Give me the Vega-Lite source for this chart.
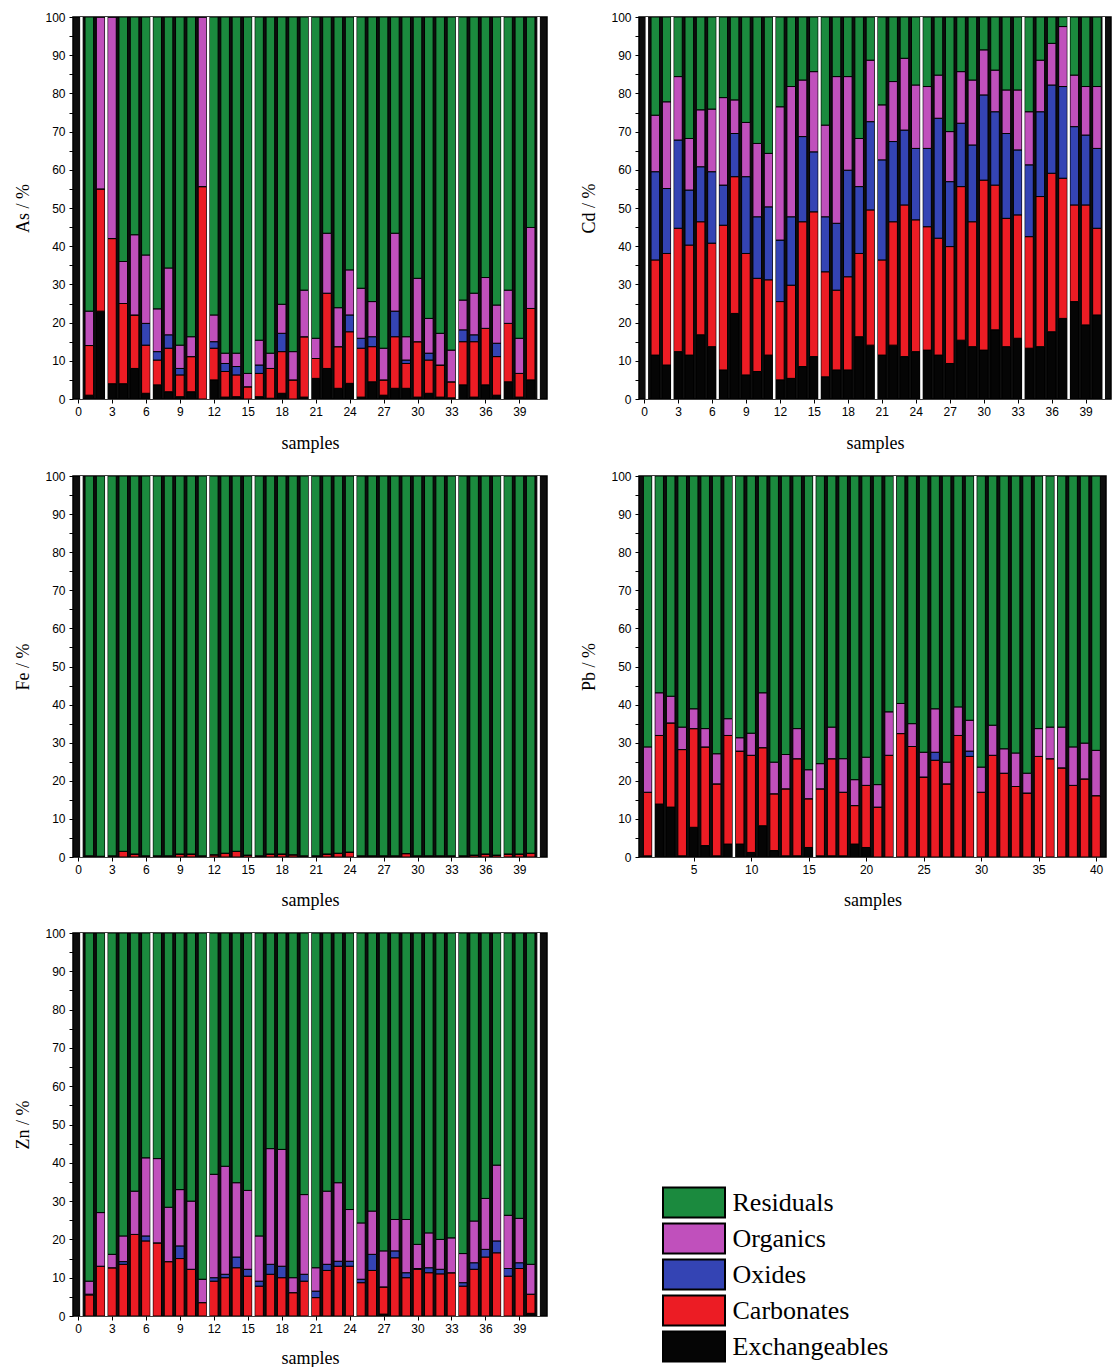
{
"$schema": "https://vega.github.io/schema/vega-lite/v6.json",
"padding": {"left": 14, "top": 10, "right": 2, "bottom": 2},
"background": "white",
"datasets": {
"ranks": [{"fraction":"Exchangeables","rank":1},{"fraction":"Carbonates","rank":2},{"fraction":"Oxides","rank":3},{"fraction":"Organics","rank":4},{"fraction":"Residuals","rank":5}],
"samples": [
{"m":"As","s":1,"Exchangeables":1,"Carbonates":13,"Oxides":0,"Organics":9,"Residuals":77},
{"m":"As","s":2,"Exchangeables":23,"Carbonates":32,"Oxides":0,"Organics":45,"Residuals":0},
{"m":"As","s":3,"Exchangeables":4,"Carbonates":38,"Oxides":0,"Organics":58,"Residuals":0},
{"m":"As","s":4,"Exchangeables":4,"Carbonates":21,"Oxides":0,"Organics":11,"Residuals":64},
{"m":"As","s":5,"Exchangeables":8,"Carbonates":14,"Oxides":0,"Organics":21,"Residuals":57},
{"m":"As","s":6,"Exchangeables":1.5,"Carbonates":12.6,"Oxides":5.7,"Organics":17.9,"Residuals":62.3},
{"m":"As","s":7,"Exchangeables":3.7,"Carbonates":6.5,"Oxides":2.2,"Organics":11.2,"Residuals":76.4},
{"m":"As","s":8,"Exchangeables":1.9,"Carbonates":11.4,"Oxides":3.5,"Organics":17.5,"Residuals":65.7},
{"m":"As","s":9,"Exchangeables":0.6,"Carbonates":5.7,"Oxides":1.7,"Organics":6.1,"Residuals":85.9},
{"m":"As","s":10,"Exchangeables":1.9,"Carbonates":9.2,"Oxides":0,"Organics":5.2,"Residuals":83.7},
{"m":"As","s":11,"Exchangeables":0,"Carbonates":55.6,"Oxides":0,"Organics":44.4,"Residuals":0},
{"m":"As","s":12,"Exchangeables":5,"Carbonates":8.3,"Oxides":1.7,"Organics":7,"Residuals":78},
{"m":"As","s":13,"Exchangeables":0.5,"Carbonates":6.7,"Oxides":2.1,"Organics":2.7,"Residuals":88},
{"m":"As","s":14,"Exchangeables":0.6,"Carbonates":5.7,"Oxides":2.2,"Organics":3.5,"Residuals":88},
{"m":"As","s":15,"Exchangeables":0,"Carbonates":3.2,"Oxides":0,"Organics":3.5,"Residuals":93.3},
{"m":"As","s":16,"Exchangeables":0.6,"Carbonates":6.1,"Oxides":2.2,"Organics":6.5,"Residuals":84.6},
{"m":"As","s":17,"Exchangeables":0.2,"Carbonates":7.8,"Oxides":0,"Organics":4,"Residuals":88},
{"m":"As","s":18,"Exchangeables":1.5,"Carbonates":10.9,"Oxides":4.8,"Organics":7.6,"Residuals":75.2},
{"m":"As","s":19,"Exchangeables":0,"Carbonates":5,"Oxides":0,"Organics":7.4,"Residuals":87.6},
{"m":"As","s":20,"Exchangeables":0.5,"Carbonates":15.8,"Oxides":0,"Organics":12.2,"Residuals":71.5},
{"m":"As","s":21,"Exchangeables":5.4,"Carbonates":5.2,"Oxides":0,"Organics":5.3,"Residuals":84.1},
{"m":"As","s":22,"Exchangeables":8,"Carbonates":19.7,"Oxides":0,"Organics":15.7,"Residuals":56.6},
{"m":"As","s":23,"Exchangeables":2.8,"Carbonates":10.9,"Oxides":0,"Organics":10.2,"Residuals":76.1},
{"m":"As","s":24,"Exchangeables":4.1,"Carbonates":13.5,"Oxides":4.4,"Organics":11.8,"Residuals":66.2},
{"m":"As","s":25,"Exchangeables":0.5,"Carbonates":12.8,"Oxides":2.6,"Organics":13.1,"Residuals":71},
{"m":"As","s":26,"Exchangeables":4.5,"Carbonates":9.2,"Oxides":2.6,"Organics":9.2,"Residuals":74.5},
{"m":"As","s":27,"Exchangeables":1,"Carbonates":4,"Oxides":0,"Organics":8.3,"Residuals":86.7},
{"m":"As","s":28,"Exchangeables":2.8,"Carbonates":13.5,"Oxides":6.7,"Organics":20.4,"Residuals":56.6},
{"m":"As","s":29,"Exchangeables":2.8,"Carbonates":6.5,"Oxides":0.9,"Organics":6.1,"Residuals":83.7},
{"m":"As","s":30,"Exchangeables":0.5,"Carbonates":14.5,"Oxides":0,"Organics":16.6,"Residuals":68.4},
{"m":"As","s":31,"Exchangeables":1.5,"Carbonates":8.7,"Oxides":1.8,"Organics":9.1,"Residuals":78.9},
{"m":"As","s":32,"Exchangeables":0.5,"Carbonates":8.4,"Oxides":0,"Organics":8.3,"Residuals":82.8},
{"m":"As","s":33,"Exchangeables":0.3,"Carbonates":4.2,"Oxides":0,"Organics":8.3,"Residuals":87.2},
{"m":"As","s":34,"Exchangeables":3.7,"Carbonates":11.3,"Oxides":3.1,"Organics":7.8,"Residuals":74.1},
{"m":"As","s":35,"Exchangeables":0.5,"Carbonates":14.5,"Oxides":1.8,"Organics":10.9,"Residuals":72.3},
{"m":"As","s":36,"Exchangeables":3.7,"Carbonates":14.8,"Oxides":0,"Organics":13.3,"Residuals":68.2},
{"m":"As","s":37,"Exchangeables":1,"Carbonates":10.1,"Oxides":3.5,"Organics":10,"Residuals":75.4},
{"m":"As","s":38,"Exchangeables":4.5,"Carbonates":15.3,"Oxides":0,"Organics":8.7,"Residuals":71.5},
{"m":"As","s":39,"Exchangeables":0.5,"Carbonates":6.2,"Oxides":0,"Organics":9.2,"Residuals":84.1},
{"m":"As","s":40,"Exchangeables":5,"Carbonates":18.7,"Oxides":0,"Organics":21.2,"Residuals":55.1},
{"m":"Cd","s":1,"Exchangeables":11.5,"Carbonates":24.9,"Oxides":23.1,"Organics":14.8,"Residuals":25.7},
{"m":"Cd","s":2,"Exchangeables":8.9,"Carbonates":29.2,"Oxides":17,"Organics":22.7,"Residuals":22.2},
{"m":"Cd","s":3,"Exchangeables":12.4,"Carbonates":32.3,"Oxides":23.1,"Organics":16.6,"Residuals":15.6},
{"m":"Cd","s":4,"Exchangeables":11.5,"Carbonates":28.8,"Oxides":14.4,"Organics":13.5,"Residuals":31.8},
{"m":"Cd","s":5,"Exchangeables":16.8,"Carbonates":29.6,"Oxides":14.4,"Organics":14.9,"Residuals":24.3},
{"m":"Cd","s":6,"Exchangeables":13.7,"Carbonates":27.1,"Oxides":18.7,"Organics":16.4,"Residuals":24.1},
{"m":"Cd","s":7,"Exchangeables":7.6,"Carbonates":37.9,"Oxides":10.5,"Organics":22.9,"Residuals":21.1},
{"m":"Cd","s":8,"Exchangeables":22.4,"Carbonates":35.8,"Oxides":11.3,"Organics":8.8,"Residuals":21.7},
{"m":"Cd","s":9,"Exchangeables":6.3,"Carbonates":31.8,"Oxides":20.1,"Organics":14.2,"Residuals":27.6},
{"m":"Cd","s":10,"Exchangeables":7.2,"Carbonates":24.4,"Oxides":16.1,"Organics":19.2,"Residuals":33.1},
{"m":"Cd","s":11,"Exchangeables":11.5,"Carbonates":19.7,"Oxides":19.1,"Organics":14,"Residuals":35.7},
{"m":"Cd","s":12,"Exchangeables":5,"Carbonates":20.5,"Oxides":16.1,"Organics":34.9,"Residuals":23.5},
{"m":"Cd","s":13,"Exchangeables":5.4,"Carbonates":24.4,"Oxides":17.9,"Organics":34.1,"Residuals":18.2},
{"m":"Cd","s":14,"Exchangeables":8.5,"Carbonates":37.9,"Oxides":22.3,"Organics":14.8,"Residuals":16.5},
{"m":"Cd","s":15,"Exchangeables":11.1,"Carbonates":37.9,"Oxides":15.7,"Organics":21,"Residuals":14.3},
{"m":"Cd","s":16,"Exchangeables":5.8,"Carbonates":27.5,"Oxides":14.4,"Organics":24,"Residuals":28.3},
{"m":"Cd","s":17,"Exchangeables":7.6,"Carbonates":20.9,"Oxides":17.5,"Organics":38.4,"Residuals":15.6},
{"m":"Cd","s":18,"Exchangeables":7.6,"Carbonates":24.4,"Oxides":27.9,"Organics":24.5,"Residuals":15.6},
{"m":"Cd","s":19,"Exchangeables":16.3,"Carbonates":21.8,"Oxides":17.5,"Organics":12.6,"Residuals":31.8},
{"m":"Cd","s":20,"Exchangeables":14.1,"Carbonates":35.4,"Oxides":23.1,"Organics":16.1,"Residuals":11.3},
{"m":"Cd","s":21,"Exchangeables":11.5,"Carbonates":24.9,"Oxides":26.2,"Organics":14.4,"Residuals":23},
{"m":"Cd","s":22,"Exchangeables":14.1,"Carbonates":32.3,"Oxides":21,"Organics":15.7,"Residuals":16.9},
{"m":"Cd","s":23,"Exchangeables":11.1,"Carbonates":39.7,"Oxides":19.6,"Organics":18.8,"Residuals":10.8},
{"m":"Cd","s":24,"Exchangeables":12.4,"Carbonates":34.5,"Oxides":18.7,"Organics":16.6,"Residuals":17.8},
{"m":"Cd","s":25,"Exchangeables":12.8,"Carbonates":32.3,"Oxides":20.5,"Organics":16.2,"Residuals":18.2},
{"m":"Cd","s":26,"Exchangeables":11.5,"Carbonates":30.6,"Oxides":31.4,"Organics":11.3,"Residuals":15.2},
{"m":"Cd","s":27,"Exchangeables":9.3,"Carbonates":30.6,"Oxides":17,"Organics":13.1,"Residuals":30},
{"m":"Cd","s":28,"Exchangeables":15.4,"Carbonates":40.2,"Oxides":16.6,"Organics":13.5,"Residuals":14.3},
{"m":"Cd","s":29,"Exchangeables":13.7,"Carbonates":32.7,"Oxides":20.1,"Organics":17,"Residuals":16.5},
{"m":"Cd","s":30,"Exchangeables":12.8,"Carbonates":44.5,"Oxides":22.3,"Organics":11.8,"Residuals":8.6},
{"m":"Cd","s":31,"Exchangeables":18.1,"Carbonates":37.9,"Oxides":19.2,"Organics":10.9,"Residuals":13.9},
{"m":"Cd","s":32,"Exchangeables":13.7,"Carbonates":33.6,"Oxides":22.2,"Organics":11.4,"Residuals":19.1},
{"m":"Cd","s":33,"Exchangeables":15.9,"Carbonates":32.3,"Oxides":17,"Organics":15.7,"Residuals":19.1},
{"m":"Cd","s":34,"Exchangeables":13.3,"Carbonates":29.2,"Oxides":18.8,"Organics":13.9,"Residuals":24.8},
{"m":"Cd","s":35,"Exchangeables":13.7,"Carbonates":39.3,"Oxides":22.2,"Organics":13.5,"Residuals":11.3},
{"m":"Cd","s":36,"Exchangeables":17.6,"Carbonates":41.5,"Oxides":23.1,"Organics":10.9,"Residuals":6.9},
{"m":"Cd","s":37,"Exchangeables":21.1,"Carbonates":36.7,"Oxides":24,"Organics":15.7,"Residuals":2.5},
{"m":"Cd","s":38,"Exchangeables":25.5,"Carbonates":25.3,"Oxides":20.5,"Organics":13.5,"Residuals":15.2},
{"m":"Cd","s":39,"Exchangeables":19.4,"Carbonates":31.4,"Oxides":18.3,"Organics":12.7,"Residuals":18.2},
{"m":"Cd","s":40,"Exchangeables":22,"Carbonates":22.7,"Oxides":20.9,"Organics":16.2,"Residuals":18.2},
{"m":"Fe","s":1,"Exchangeables":0,"Carbonates":0.3,"Oxides":0,"Organics":0,"Residuals":99.7},
{"m":"Fe","s":2,"Exchangeables":0,"Carbonates":0.2,"Oxides":0,"Organics":0,"Residuals":99.8},
{"m":"Fe","s":3,"Exchangeables":0,"Carbonates":0.3,"Oxides":0,"Organics":0,"Residuals":99.7},
{"m":"Fe","s":4,"Exchangeables":0,"Carbonates":1.5,"Oxides":0,"Organics":0,"Residuals":98.5},
{"m":"Fe","s":5,"Exchangeables":0,"Carbonates":0.8,"Oxides":0,"Organics":0,"Residuals":99.2},
{"m":"Fe","s":6,"Exchangeables":0,"Carbonates":0.3,"Oxides":0,"Organics":0,"Residuals":99.7},
{"m":"Fe","s":7,"Exchangeables":0,"Carbonates":0.3,"Oxides":0,"Organics":0,"Residuals":99.7},
{"m":"Fe","s":8,"Exchangeables":0,"Carbonates":0.3,"Oxides":0,"Organics":0,"Residuals":99.7},
{"m":"Fe","s":9,"Exchangeables":0,"Carbonates":0.8,"Oxides":0,"Organics":0,"Residuals":99.2},
{"m":"Fe","s":10,"Exchangeables":0,"Carbonates":0.8,"Oxides":0,"Organics":0,"Residuals":99.2},
{"m":"Fe","s":11,"Exchangeables":0,"Carbonates":0.3,"Oxides":0,"Organics":0,"Residuals":99.7},
{"m":"Fe","s":12,"Exchangeables":0,"Carbonates":0.6,"Oxides":0,"Organics":0,"Residuals":99.4},
{"m":"Fe","s":13,"Exchangeables":0,"Carbonates":1,"Oxides":0,"Organics":0,"Residuals":99},
{"m":"Fe","s":14,"Exchangeables":0,"Carbonates":1.5,"Oxides":0,"Organics":0,"Residuals":98.5},
{"m":"Fe","s":15,"Exchangeables":0,"Carbonates":0.5,"Oxides":0,"Organics":0,"Residuals":99.5},
{"m":"Fe","s":16,"Exchangeables":0,"Carbonates":0.3,"Oxides":0,"Organics":0,"Residuals":99.7},
{"m":"Fe","s":17,"Exchangeables":0,"Carbonates":0.8,"Oxides":0,"Organics":0,"Residuals":99.2},
{"m":"Fe","s":18,"Exchangeables":0,"Carbonates":0.8,"Oxides":0,"Organics":0,"Residuals":99.2},
{"m":"Fe","s":19,"Exchangeables":0,"Carbonates":0.6,"Oxides":0,"Organics":0,"Residuals":99.4},
{"m":"Fe","s":20,"Exchangeables":0,"Carbonates":0.3,"Oxides":0,"Organics":0,"Residuals":99.7},
{"m":"Fe","s":21,"Exchangeables":0,"Carbonates":0.3,"Oxides":0,"Organics":0,"Residuals":99.7},
{"m":"Fe","s":22,"Exchangeables":0,"Carbonates":0.8,"Oxides":0,"Organics":0,"Residuals":99.2},
{"m":"Fe","s":23,"Exchangeables":0,"Carbonates":1,"Oxides":0,"Organics":0,"Residuals":99},
{"m":"Fe","s":24,"Exchangeables":0,"Carbonates":1.3,"Oxides":0,"Organics":0,"Residuals":98.7},
{"m":"Fe","s":25,"Exchangeables":0,"Carbonates":0.3,"Oxides":0,"Organics":0,"Residuals":99.7},
{"m":"Fe","s":26,"Exchangeables":0,"Carbonates":0.3,"Oxides":0,"Organics":0,"Residuals":99.7},
{"m":"Fe","s":27,"Exchangeables":0,"Carbonates":0.3,"Oxides":0,"Organics":0,"Residuals":99.7},
{"m":"Fe","s":28,"Exchangeables":0,"Carbonates":0.3,"Oxides":0,"Organics":0,"Residuals":99.7},
{"m":"Fe","s":29,"Exchangeables":0,"Carbonates":0.9,"Oxides":0,"Organics":0,"Residuals":99.1},
{"m":"Fe","s":30,"Exchangeables":0,"Carbonates":0.3,"Oxides":0,"Organics":0,"Residuals":99.7},
{"m":"Fe","s":31,"Exchangeables":0,"Carbonates":0.3,"Oxides":0,"Organics":0,"Residuals":99.7},
{"m":"Fe","s":32,"Exchangeables":0,"Carbonates":0.3,"Oxides":0,"Organics":0,"Residuals":99.7},
{"m":"Fe","s":33,"Exchangeables":0,"Carbonates":0.3,"Oxides":0,"Organics":0,"Residuals":99.7},
{"m":"Fe","s":34,"Exchangeables":0,"Carbonates":0.3,"Oxides":0,"Organics":0,"Residuals":99.7},
{"m":"Fe","s":35,"Exchangeables":0,"Carbonates":0.5,"Oxides":0,"Organics":0,"Residuals":99.5},
{"m":"Fe","s":36,"Exchangeables":0,"Carbonates":0.8,"Oxides":0,"Organics":0,"Residuals":99.2},
{"m":"Fe","s":37,"Exchangeables":0,"Carbonates":0.5,"Oxides":0,"Organics":0,"Residuals":99.5},
{"m":"Fe","s":38,"Exchangeables":0,"Carbonates":0.8,"Oxides":0,"Organics":0,"Residuals":99.2},
{"m":"Fe","s":39,"Exchangeables":0,"Carbonates":0.8,"Oxides":0,"Organics":0,"Residuals":99.2},
{"m":"Fe","s":40,"Exchangeables":0,"Carbonates":1,"Oxides":0,"Organics":0,"Residuals":99},
{"m":"Pb","s":1,"Exchangeables":0.3,"Carbonates":16.7,"Oxides":0,"Organics":11.9,"Residuals":71.1},
{"m":"Pb","s":2,"Exchangeables":13.9,"Carbonates":18,"Oxides":0,"Organics":11.2,"Residuals":56.9},
{"m":"Pb","s":3,"Exchangeables":13.1,"Carbonates":22.1,"Oxides":0,"Organics":7,"Residuals":57.8},
{"m":"Pb","s":4,"Exchangeables":0.3,"Carbonates":27.9,"Oxides":0,"Organics":5.9,"Residuals":65.9},
{"m":"Pb","s":5,"Exchangeables":7.8,"Carbonates":25.9,"Oxides":0,"Organics":5.2,"Residuals":61.1},
{"m":"Pb","s":6,"Exchangeables":3,"Carbonates":25.9,"Oxides":0,"Organics":4.8,"Residuals":66.3},
{"m":"Pb","s":7,"Exchangeables":0.3,"Carbonates":18.9,"Oxides":0,"Organics":7.9,"Residuals":72.9},
{"m":"Pb","s":8,"Exchangeables":3.4,"Carbonates":28.5,"Oxides":0,"Organics":4.4,"Residuals":63.7},
{"m":"Pb","s":9,"Exchangeables":3.4,"Carbonates":24.4,"Oxides":0,"Organics":3.5,"Residuals":68.7},
{"m":"Pb","s":10,"Exchangeables":1.2,"Carbonates":25.5,"Oxides":0,"Organics":5.8,"Residuals":67.5},
{"m":"Pb","s":11,"Exchangeables":8.2,"Carbonates":20.5,"Oxides":0,"Organics":14.4,"Residuals":56.9},
{"m":"Pb","s":12,"Exchangeables":1.7,"Carbonates":14.9,"Oxides":0,"Organics":8.3,"Residuals":75.1},
{"m":"Pb","s":13,"Exchangeables":0.3,"Carbonates":17.6,"Oxides":0,"Organics":9,"Residuals":73.1},
{"m":"Pb","s":14,"Exchangeables":0.3,"Carbonates":25.5,"Oxides":0,"Organics":7.9,"Residuals":66.3},
{"m":"Pb","s":15,"Exchangeables":2.5,"Carbonates":12.8,"Oxides":0,"Organics":7.6,"Residuals":77.1},
{"m":"Pb","s":16,"Exchangeables":0.3,"Carbonates":17.6,"Oxides":0,"Organics":6.6,"Residuals":75.5},
{"m":"Pb","s":17,"Exchangeables":0.3,"Carbonates":25.5,"Oxides":0,"Organics":8.3,"Residuals":65.9},
{"m":"Pb","s":18,"Exchangeables":0.3,"Carbonates":16.7,"Oxides":0,"Organics":8.8,"Residuals":74.2},
{"m":"Pb","s":19,"Exchangeables":3.4,"Carbonates":10.1,"Oxides":0,"Organics":6.8,"Residuals":79.7},
{"m":"Pb","s":20,"Exchangeables":2.5,"Carbonates":16.3,"Oxides":0,"Organics":7.4,"Residuals":73.8},
{"m":"Pb","s":21,"Exchangeables":0,"Carbonates":13.1,"Oxides":0,"Organics":5.9,"Residuals":81},
{"m":"Pb","s":22,"Exchangeables":0,"Carbonates":26.7,"Oxides":0,"Organics":11.4,"Residuals":61.9},
{"m":"Pb","s":23,"Exchangeables":0,"Carbonates":32.4,"Oxides":0,"Organics":7.9,"Residuals":59.7},
{"m":"Pb","s":24,"Exchangeables":0,"Carbonates":29,"Oxides":0,"Organics":6,"Residuals":65},
{"m":"Pb","s":25,"Exchangeables":0,"Carbonates":21,"Oxides":0,"Organics":6.5,"Residuals":72.5},
{"m":"Pb","s":26,"Exchangeables":0,"Carbonates":25.4,"Oxides":2.1,"Organics":11.4,"Residuals":61.1},
{"m":"Pb","s":27,"Exchangeables":0,"Carbonates":19.2,"Oxides":0,"Organics":5.7,"Residuals":75.1},
{"m":"Pb","s":28,"Exchangeables":0,"Carbonates":31.9,"Oxides":0,"Organics":7.5,"Residuals":60.6},
{"m":"Pb","s":29,"Exchangeables":0,"Carbonates":26.4,"Oxides":1.4,"Organics":8.1,"Residuals":64.1},
{"m":"Pb","s":30,"Exchangeables":0,"Carbonates":17,"Oxides":0,"Organics":6.6,"Residuals":76.4},
{"m":"Pb","s":31,"Exchangeables":0,"Carbonates":26.7,"Oxides":0,"Organics":7.9,"Residuals":65.4},
{"m":"Pb","s":32,"Exchangeables":0,"Carbonates":22,"Oxides":0,"Organics":6.4,"Residuals":71.6},
{"m":"Pb","s":33,"Exchangeables":0,"Carbonates":18.5,"Oxides":0,"Organics":8.8,"Residuals":72.7},
{"m":"Pb","s":34,"Exchangeables":0,"Carbonates":16.8,"Oxides":0,"Organics":5.2,"Residuals":78},
{"m":"Pb","s":35,"Exchangeables":0,"Carbonates":26.4,"Oxides":0,"Organics":7.3,"Residuals":66.3},
{"m":"Pb","s":36,"Exchangeables":0,"Carbonates":25.8,"Oxides":0,"Organics":8.3,"Residuals":65.9},
{"m":"Pb","s":37,"Exchangeables":0,"Carbonates":23.4,"Oxides":0,"Organics":10.7,"Residuals":65.9},
{"m":"Pb","s":38,"Exchangeables":0,"Carbonates":18.8,"Oxides":0,"Organics":10.1,"Residuals":71.1},
{"m":"Pb","s":39,"Exchangeables":0,"Carbonates":20.5,"Oxides":0,"Organics":9.4,"Residuals":70.1},
{"m":"Pb","s":40,"Exchangeables":0,"Carbonates":16.1,"Oxides":0,"Organics":11.9,"Residuals":72},
{"m":"Zn","s":1,"Exchangeables":0,"Carbonates":5.5,"Oxides":0.2,"Organics":3.4,"Residuals":90.9},
{"m":"Zn","s":2,"Exchangeables":0,"Carbonates":13,"Oxides":0,"Organics":14,"Residuals":73},
{"m":"Zn","s":3,"Exchangeables":0,"Carbonates":12.6,"Oxides":0,"Organics":3.5,"Residuals":83.9},
{"m":"Zn","s":4,"Exchangeables":0,"Carbonates":13.5,"Oxides":0.7,"Organics":6.7,"Residuals":79.1},
{"m":"Zn","s":5,"Exchangeables":0,"Carbonates":21.3,"Oxides":0,"Organics":11.3,"Residuals":67.4},
{"m":"Zn","s":6,"Exchangeables":0,"Carbonates":19.6,"Oxides":1.3,"Organics":20.4,"Residuals":58.7},
{"m":"Zn","s":7,"Exchangeables":0,"Carbonates":19.1,"Oxides":0,"Organics":22,"Residuals":58.9},
{"m":"Zn","s":8,"Exchangeables":0,"Carbonates":14.2,"Oxides":0,"Organics":14.2,"Residuals":71.6},
{"m":"Zn","s":9,"Exchangeables":0,"Carbonates":15,"Oxides":3.3,"Organics":14.7,"Residuals":67},
{"m":"Zn","s":10,"Exchangeables":0,"Carbonates":12.2,"Oxides":0,"Organics":17.8,"Residuals":70},
{"m":"Zn","s":11,"Exchangeables":0,"Carbonates":3.5,"Oxides":0,"Organics":6.1,"Residuals":90.4},
{"m":"Zn","s":12,"Exchangeables":0,"Carbonates":9.1,"Oxides":0.9,"Organics":27,"Residuals":63},
{"m":"Zn","s":13,"Exchangeables":0,"Carbonates":10,"Oxides":0.9,"Organics":28.2,"Residuals":60.9},
{"m":"Zn","s":14,"Exchangeables":0,"Carbonates":12.6,"Oxides":2.8,"Organics":19.4,"Residuals":65.2},
{"m":"Zn","s":15,"Exchangeables":0,"Carbonates":10.4,"Oxides":1.8,"Organics":20.6,"Residuals":67.2},
{"m":"Zn","s":16,"Exchangeables":0,"Carbonates":7.8,"Oxides":1.3,"Organics":11.8,"Residuals":79.1},
{"m":"Zn","s":17,"Exchangeables":0,"Carbonates":10.9,"Oxides":2.6,"Organics":30.2,"Residuals":56.3},
{"m":"Zn","s":18,"Exchangeables":0,"Carbonates":10,"Oxides":3,"Organics":30.5,"Residuals":56.5},
{"m":"Zn","s":19,"Exchangeables":0,"Carbonates":6.1,"Oxides":0,"Organics":3.9,"Residuals":90},
{"m":"Zn","s":20,"Exchangeables":0,"Carbonates":9.1,"Oxides":1.8,"Organics":20.8,"Residuals":68.3},
{"m":"Zn","s":21,"Exchangeables":0,"Carbonates":4.8,"Oxides":1.7,"Organics":6.1,"Residuals":87.4},
{"m":"Zn","s":22,"Exchangeables":0,"Carbonates":11.9,"Oxides":1.6,"Organics":19.1,"Residuals":67.4},
{"m":"Zn","s":23,"Exchangeables":0,"Carbonates":13,"Oxides":1.3,"Organics":20.5,"Residuals":65.2},
{"m":"Zn","s":24,"Exchangeables":0,"Carbonates":13,"Oxides":1.3,"Organics":13.5,"Residuals":72.2},
{"m":"Zn","s":25,"Exchangeables":0,"Carbonates":8.7,"Oxides":0.9,"Organics":14.7,"Residuals":75.7},
{"m":"Zn","s":26,"Exchangeables":0,"Carbonates":11.9,"Oxides":4.2,"Organics":11.3,"Residuals":72.6},
{"m":"Zn","s":27,"Exchangeables":0.5,"Carbonates":7.1,"Oxides":0,"Organics":9.4,"Residuals":83},
{"m":"Zn","s":28,"Exchangeables":0,"Carbonates":15.2,"Oxides":1.8,"Organics":8.2,"Residuals":74.8},
{"m":"Zn","s":29,"Exchangeables":0,"Carbonates":10,"Oxides":1.3,"Organics":13.9,"Residuals":74.8},
{"m":"Zn","s":30,"Exchangeables":0,"Carbonates":12.2,"Oxides":0.2,"Organics":6.3,"Residuals":81.3},
{"m":"Zn","s":31,"Exchangeables":0,"Carbonates":11.3,"Oxides":1.3,"Organics":9.1,"Residuals":78.3},
{"m":"Zn","s":32,"Exchangeables":0,"Carbonates":11,"Oxides":1.2,"Organics":7.8,"Residuals":80},
{"m":"Zn","s":33,"Exchangeables":0,"Carbonates":11.3,"Oxides":0,"Organics":9.1,"Residuals":79.6},
{"m":"Zn","s":34,"Exchangeables":0,"Carbonates":7.8,"Oxides":0.9,"Organics":7.6,"Residuals":83.7},
{"m":"Zn","s":35,"Exchangeables":0,"Carbonates":12.2,"Oxides":1.7,"Organics":10.9,"Residuals":75.2},
{"m":"Zn","s":36,"Exchangeables":0,"Carbonates":15.4,"Oxides":2,"Organics":13.3,"Residuals":69.3},
{"m":"Zn","s":37,"Exchangeables":0,"Carbonates":16.5,"Oxides":3.1,"Organics":19.8,"Residuals":60.6},
{"m":"Zn","s":38,"Exchangeables":0,"Carbonates":10.4,"Oxides":2,"Organics":13.9,"Residuals":73.7},
{"m":"Zn","s":39,"Exchangeables":0,"Carbonates":12.4,"Oxides":1.5,"Organics":11.6,"Residuals":74.5},
{"m":"Zn","s":40,"Exchangeables":0.7,"Carbonates":5,"Oxides":0,"Organics":7.8,"Residuals":86.5}
]
},
"columns": 2,
"spacing": {"row": 16, "column": 32},
"concat": [
{
"width": 474, "height": 382,
"layer": [
{"data": {"name": "samples"},
 "transform": [{"filter": "datum.m == 'As'"},{"fold": ["Exchangeables","Carbonates","Oxides","Organics","Residuals"], "as": ["fraction","pct"]},{"lookup": "fraction", "from": {"data": {"name": "ranks"}, "key": "fraction", "fields": ["rank"]}}],
 "mark": {"type": "bar", "size": 8.6, "stroke": "#000", "strokeWidth": 1, "clip": true},
 "encoding": {
  "x": {"field": "s", "type": "quantitative", "title": "samples", "scale": {"domain": [0, 41], "nice": false, "zero": false}, "axis": {"values": [0,3,6,9,12,15,18,21,24,27,30,33,36,39], "labelOverlap": false, "titlePadding": 17}},
  "y": {"field": "pct", "type": "quantitative", "stack": "zero", "title": "As / %", "scale": {"domain": [0, 100], "nice": false}, "axis": {"values": [0,5,10,15,20,25,30,35,40,45,50,55,60,65,70,75,80,85,90,95,100], "labelExpr": "datum.value % 10 == 0 ? datum.label : ''"}},
  "color": {"field": "fraction", "type": "nominal", "scale": {"domain": ["Residuals","Organics","Oxides","Carbonates","Exchangeables"], "range": ["#1b8a3e","#c050bc","#3444b4","#ec1c24","#050505"]}, "legend": {"orient": "none", "legendX": 589, "legendY": 1169, "title": null}},
  "order": {"field": "rank", "type": "quantitative", "sort": "ascending"}
 }},
{"data": {"values": [{"x":0.3},{"x":2.5},{"x":6.5},{"x":11.5},{"x":15.5},{"x":20.5},{"x":24.5},{"x":33.5},{"x":37.5},{"x":40.7}]},
 "mark": {"type": "rule", "color": "#ffffff", "strokeWidth": 2.5},
 "encoding": {"x": {"field": "x", "type": "quantitative", "title": "samples", "axis": {"values": [0,3,6,9,12,15,18,21,24,27,30,33,36,39], "labelOverlap": false, "titlePadding": 17}}}}
]
},
{
"width": 472, "height": 382,
"layer": [
{"data": {"name": "samples"},
 "transform": [{"filter": "datum.m == 'Cd'"},{"fold": ["Exchangeables","Carbonates","Oxides","Organics","Residuals"], "as": ["fraction","pct"]},{"lookup": "fraction", "from": {"data": {"name": "ranks"}, "key": "fraction", "fields": ["rank"]}}],
 "mark": {"type": "bar", "size": 8.6, "stroke": "#000", "strokeWidth": 1, "clip": true},
 "encoding": {
  "x": {"field": "s", "type": "quantitative", "title": "samples", "scale": {"domain": [0, 40.8], "nice": false, "zero": false}, "axis": {"values": [0,3,6,9,12,15,18,21,24,27,30,33,36,39], "labelOverlap": false, "titlePadding": 17}},
  "y": {"field": "pct", "type": "quantitative", "stack": "zero", "title": "Cd / %", "scale": {"domain": [0, 100], "nice": false}, "axis": {"values": [0,5,10,15,20,25,30,35,40,45,50,55,60,65,70,75,80,85,90,95,100], "labelExpr": "datum.value % 10 == 0 ? datum.label : ''"}},
  "color": {"field": "fraction", "type": "nominal", "scale": {"domain": ["Residuals","Organics","Oxides","Carbonates","Exchangeables"], "range": ["#1b8a3e","#c050bc","#3444b4","#ec1c24","#050505"]}, "legend": {"orient": "none", "legendX": 589, "legendY": 1169, "title": null}},
  "order": {"field": "rank", "type": "quantitative", "sort": "ascending"}
 }},
{"data": {"values": [{"x":0.25},{"x":2.5},{"x":6.5},{"x":11.5},{"x":15.5},{"x":20.5},{"x":24.5},{"x":33.5},{"x":37.5},{"x":40.6}]},
 "mark": {"type": "rule", "color": "#ffffff", "strokeWidth": 2.5},
 "encoding": {"x": {"field": "x", "type": "quantitative", "title": "samples", "axis": {"values": [0,3,6,9,12,15,18,21,24,27,30,33,36,39], "labelOverlap": false, "titlePadding": 17}}}}
]
},
{
"width": 474, "height": 381,
"layer": [
{"data": {"name": "samples"},
 "transform": [{"filter": "datum.m == 'Fe'"},{"fold": ["Exchangeables","Carbonates","Oxides","Organics","Residuals"], "as": ["fraction","pct"]},{"lookup": "fraction", "from": {"data": {"name": "ranks"}, "key": "fraction", "fields": ["rank"]}}],
 "mark": {"type": "bar", "size": 8.6, "stroke": "#000", "strokeWidth": 1, "clip": true},
 "encoding": {
  "x": {"field": "s", "type": "quantitative", "title": "samples", "scale": {"domain": [0, 41], "nice": false, "zero": false}, "axis": {"values": [0,3,6,9,12,15,18,21,24,27,30,33,36,39], "labelOverlap": false, "titlePadding": 16}},
  "y": {"field": "pct", "type": "quantitative", "stack": "zero", "title": "Fe / %", "scale": {"domain": [0, 100], "nice": false}, "axis": {"values": [0,5,10,15,20,25,30,35,40,45,50,55,60,65,70,75,80,85,90,95,100], "labelExpr": "datum.value % 10 == 0 ? datum.label : ''"}},
  "color": {"field": "fraction", "type": "nominal", "scale": {"domain": ["Residuals","Organics","Oxides","Carbonates","Exchangeables"], "range": ["#1b8a3e","#c050bc","#3444b4","#ec1c24","#050505"]}, "legend": {"orient": "none", "legendX": 589, "legendY": 1169, "title": null}},
  "order": {"field": "rank", "type": "quantitative", "sort": "ascending"}
 }},
{"data": {"values": [{"x":0.3},{"x":2.5},{"x":6.5},{"x":11.5},{"x":15.5},{"x":20.5},{"x":24.5},{"x":33.5},{"x":37.5},{"x":40.7}]},
 "mark": {"type": "rule", "color": "#ffffff", "strokeWidth": 2.5},
 "encoding": {"x": {"field": "x", "type": "quantitative", "title": "samples", "axis": {"values": [0,3,6,9,12,15,18,21,24,27,30,33,36,39], "labelOverlap": false, "titlePadding": 16}}}}
]
},
{
"width": 467, "height": 381,
"layer": [
{"data": {"name": "samples"},
 "transform": [{"filter": "datum.m == 'Pb'"},{"fold": ["Exchangeables","Carbonates","Oxides","Organics","Residuals"], "as": ["fraction","pct"]},{"lookup": "fraction", "from": {"data": {"name": "ranks"}, "key": "fraction", "fields": ["rank"]}}],
 "mark": {"type": "bar", "size": 8.6, "stroke": "#000", "strokeWidth": 1, "clip": true},
 "encoding": {
  "x": {"field": "s", "type": "quantitative", "title": "samples", "scale": {"domain": [0.68, 40.43], "nice": false, "zero": false}, "axis": {"values": [5,10,15,20,25,30,35,40], "labelOverlap": false, "titlePadding": 16}},
  "y": {"field": "pct", "type": "quantitative", "stack": "zero", "title": "Pb / %", "scale": {"domain": [0, 100], "nice": false}, "axis": {"values": [0,5,10,15,20,25,30,35,40,45,50,55,60,65,70,75,80,85,90,95,100], "labelExpr": "datum.value % 10 == 0 ? datum.label : ''"}},
  "color": {"field": "fraction", "type": "nominal", "scale": {"domain": ["Residuals","Organics","Oxides","Carbonates","Exchangeables"], "range": ["#1b8a3e","#c050bc","#3444b4","#ec1c24","#050505"]}, "legend": {"orient": "none", "legendX": 589, "legendY": 1169, "title": null}},
  "order": {"field": "rank", "type": "quantitative", "sort": "ascending"}
 }},
{"data": {"values": [{"x":1.5},{"x":8.5},{"x":15.5},{"x":22.5},{"x":29.5},{"x":35.5},{"x":36.5}]},
 "mark": {"type": "rule", "color": "#ffffff", "strokeWidth": 2.5},
 "encoding": {"x": {"field": "x", "type": "quantitative", "title": "samples", "axis": {"values": [5,10,15,20,25,30,35,40], "labelOverlap": false, "titlePadding": 16}}}}
]
},
{
"width": 474, "height": 383,
"layer": [
{"data": {"name": "samples"},
 "transform": [{"filter": "datum.m == 'Zn'"},{"fold": ["Exchangeables","Carbonates","Oxides","Organics","Residuals"], "as": ["fraction","pct"]},{"lookup": "fraction", "from": {"data": {"name": "ranks"}, "key": "fraction", "fields": ["rank"]}}],
 "mark": {"type": "bar", "size": 8.6, "stroke": "#000", "strokeWidth": 1, "clip": true},
 "encoding": {
  "x": {"field": "s", "type": "quantitative", "title": "samples", "scale": {"domain": [0, 41], "nice": false, "zero": false}, "axis": {"values": [0,3,6,9,12,15,18,21,24,27,30,33,36,39], "labelOverlap": false, "titlePadding": 15}},
  "y": {"field": "pct", "type": "quantitative", "stack": "zero", "title": "Zn / %", "scale": {"domain": [0, 100], "nice": false}, "axis": {"values": [0,5,10,15,20,25,30,35,40,45,50,55,60,65,70,75,80,85,90,95,100], "labelExpr": "datum.value % 10 == 0 ? datum.label : ''"}},
  "color": {"field": "fraction", "type": "nominal", "scale": {"domain": ["Residuals","Organics","Oxides","Carbonates","Exchangeables"], "range": ["#1b8a3e","#c050bc","#3444b4","#ec1c24","#050505"]}, "legend": {"orient": "none", "legendX": 589, "legendY": 1169, "title": null}},
  "order": {"field": "rank", "type": "quantitative", "sort": "ascending"}
 }},
{"data": {"values": [{"x":0.3},{"x":2.5},{"x":6.5},{"x":11.5},{"x":15.5},{"x":20.5},{"x":24.5},{"x":33.5},{"x":37.5},{"x":40.7}]},
 "mark": {"type": "rule", "color": "#ffffff", "strokeWidth": 2.5},
 "encoding": {"x": {"field": "x", "type": "quantitative", "title": "samples", "axis": {"values": [0,3,6,9,12,15,18,21,24,27,30,33,36,39], "labelOverlap": false, "titlePadding": 15}}}}
]
}
],
"config": {
 "view": {"fill": "#0e0e0e", "stroke": "#000000", "strokeWidth": 1.5},
 "axis": {"grid": false, "domain": false, "tickColor": "#000", "tickSize": 4, "labelFont": "Liberation Sans", "labelFontSize": 12, "labelColor": "#000", "labelFlush": false, "labelOverlap": false, "titleFont": "Liberation Serif", "titleFontSize": 18, "titleFontWeight": "normal", "titleColor": "#000"},
 "axisX": {"labelPadding": 3},
 "axisY": {"labelPadding": 4, "titlePadding": 12},
 "legend": {"symbolType": "M-2,-0.97H2V0.97H-2Z", "symbolSize": 961, "symbolOffset": 15.5, "symbolStrokeColor": "#000", "symbolStrokeWidth": 2, "symbolOpacity": 1, "labelFont": "Liberation Serif", "labelFontSize": 26, "labelColor": "#000", "labelOffset": 22, "rowPadding": -5, "padding": 0, "labelLimit": 400}
}
}
